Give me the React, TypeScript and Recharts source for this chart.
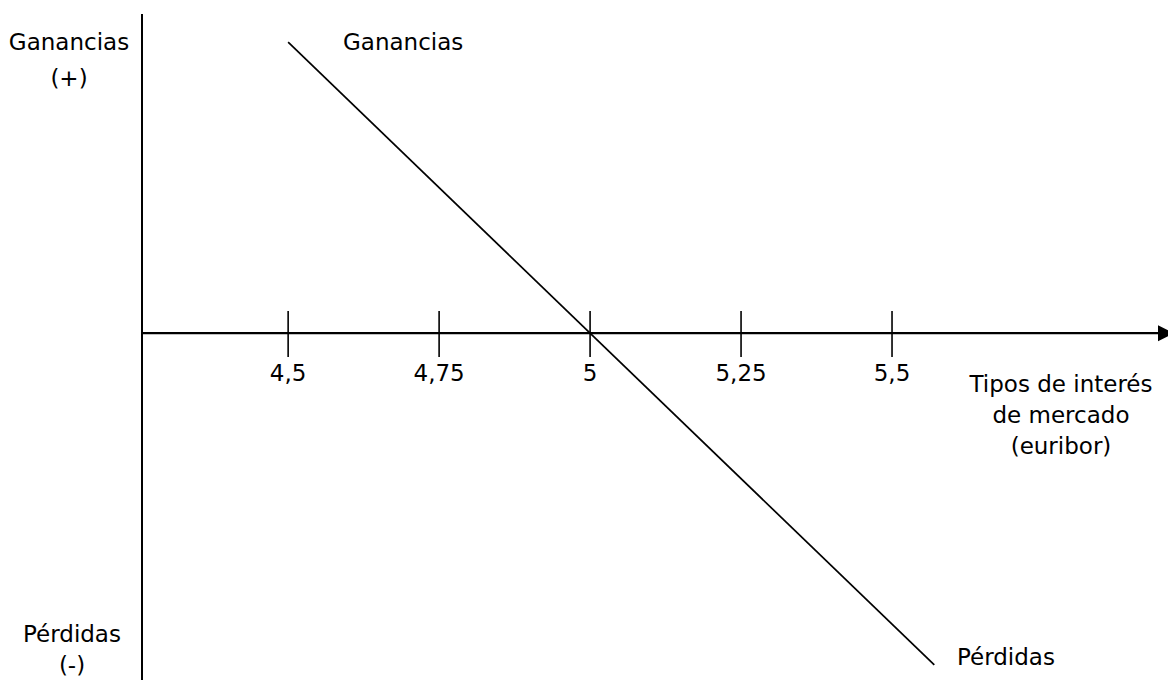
import React from "react";
import { LineChart, Line, XAxis, YAxis, ReferenceLine } from "recharts";

// euribor rate (x) against result of the position (y)
const rateTicks = [4.5, 4.75, 5, 5.25, 5.5];
const rateTickLabels = ["4,5", "4,75", "5", "5,25", "5,5"];
const lineRates = [4.5, 5.57];
const lineResults = [100, -114];

const rateDomain = [4.258, 5.957];
const resultDomain = [-119.2, 109.7];

const FONT = "'DejaVu Sans', Verdana, sans-serif";
const FS = 23;

const data = lineRates.map((rate, i) => ({ rate, result: lineResults[i] }));

// horizontal axis with an arrow head at the right end
function ArrowAxis(props: any) {
  const { x1, y1, x2, y2 } = props;
  return (
    <g>
      <line x1={x1} y1={y1} x2={x2 - 6} y2={y2} stroke="#000" strokeWidth={2.2} />
      <polygon
        points={`${x2 - 10},${y2 - 8} ${x2 + 6},${y2} ${x2 - 10},${y2 + 8}`}
        fill="#000"
      />
    </g>
  );
}

export default function App() {
  return (
    <div style={{ position: "absolute", left: 0, top: 0, width: 1168, height: 680, background: "#fff", fontFamily: FONT }}>
      <LineChart
        width={1168}
        height={680}
        data={data}
        margin={{ top: 14, right: 0, bottom: 0, left: 142 }}
      >
        <XAxis type="number" dataKey="rate" domain={rateDomain} allowDataOverflow hide />
        <YAxis type="number" domain={resultDomain} allowDataOverflow hide />
        <ReferenceLine x={rateDomain[0]} stroke="#000" strokeWidth={2} ifOverflow="visible" />
        <ReferenceLine y={0} ifOverflow="visible" shape={ArrowAxis} />
        {rateTicks.map((t, i) => (
          <ReferenceLine
            key={t}
            segment={[
              { x: t, y: 7.6 },
              { x: t, y: -8.2 },
            ]}
            stroke="#000"
            strokeWidth={1.6}
            ifOverflow="visible"
            label={{
              value: rateTickLabels[i],
              position: "bottom",
              offset: 8,
              fill: "#000",
              fontSize: FS,
              fontFamily: FONT,
            }}
          />
        ))}
        <Line
          type="linear"
          dataKey="result"
          stroke="#000"
          strokeWidth={1.7}
          dot={false}
          activeDot={false}
          isAnimationActive={false}
        />
      </LineChart>
      <svg
        width={1168}
        height={680}
        style={{ position: "absolute", left: 0, top: 0, pointerEvents: "none" }}
        fontFamily={FONT}
        fontSize={FS}
        fill="#000"
      >
        <text x={69} y={50} textAnchor="middle">Ganancias</text>
        <text x={69} y={86} textAnchor="middle">(+)</text>
        <text x={343} y={50}>Ganancias</text>
        <text x={72} y={642} textAnchor="middle">Pérdidas</text>
        <text x={72} y={673} textAnchor="middle">(-)</text>
        <text x={957} y={665}>Pérdidas</text>
        <text x={1061} y={392} textAnchor="middle">Tipos de interés</text>
        <text x={1061} y={423} textAnchor="middle">de mercado</text>
        <text x={1061} y={454} textAnchor="middle">(euribor)</text>
      </svg>
    </div>
  );
}
